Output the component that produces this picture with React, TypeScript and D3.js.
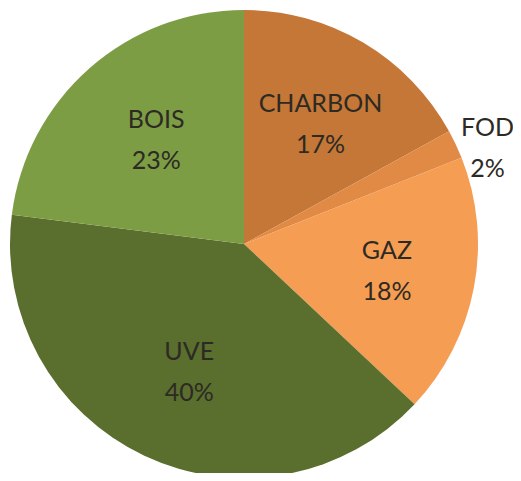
import React from 'react';
import * as d3 from 'd3';

const labels = ['CHARBON', 'FOD', 'GAZ', 'UVE', 'BOIS'];
const shares = [17, 2, 18, 40, 23];
const colors = ['#c47736', '#e08a45', '#f59d52', '#5a6e2e', '#7d9d45'];

const W = 521;
const H = 481;

const PieChart = () => {
  const ref = React.useRef<SVGSVGElement>(null);

  React.useEffect(() => {
    const svg = d3.select(ref.current);
    svg.selectAll('*').remove();

    const R = 234;
    const g = svg.append('g').attr('transform', 'translate(244,244)');

    const data = labels.map((l, i) => ({ label: l, value: shares[i], color: colors[i] }));
    const pie = d3.pie<any>().value(d => d.value).sort(null);
    const arcs = pie(data);
    const arc = d3.arc<any>().innerRadius(0).outerRadius(R);
    const inner = d3.arc<any>().innerRadius(R * 0.6).outerRadius(R * 0.6);
    const outer = d3.arc<any>().innerRadius(R * 1.15).outerRadius(R * 1.15);

    g.selectAll('path')
      .data(arcs)
      .enter()
      .append('path')
      .attr('d', arc)
      .attr('fill', d => d.data.color);

    const txt = g.selectAll('text.lbl')
      .data(arcs)
      .enter()
      .append('text')
      .attr('class', 'lbl')
      .attr('transform', d => {
        const small = d.data.value < 5;
        const c = small ? outer.centroid(d) : inner.centroid(d);
        const dx = small ? 0 : 5;
        const dy = small ? 18 : 0;
        return `translate(${c[0] + dx},${c[1] + dy})`;
      })
      .attr('text-anchor', 'middle')
      .attr('font-family', 'Lato, "Open Sans", sans-serif')
      .attr('font-size', 25)
      .attr('fill', '#2d2a24');
    txt.append('tspan').attr('x', 0).attr('y', -11).text(d => d.data.label);
    txt.append('tspan').attr('x', 0).attr('y', 30).text(d => d.data.value + '%');
  }, []);

  return <svg ref={ref} width={W} height={H} style={{ display: 'block' }} />;
};

export default function App() {
  return (
    <div style={{ margin: -8 }}>
      <PieChart />
    </div>
  );
}
